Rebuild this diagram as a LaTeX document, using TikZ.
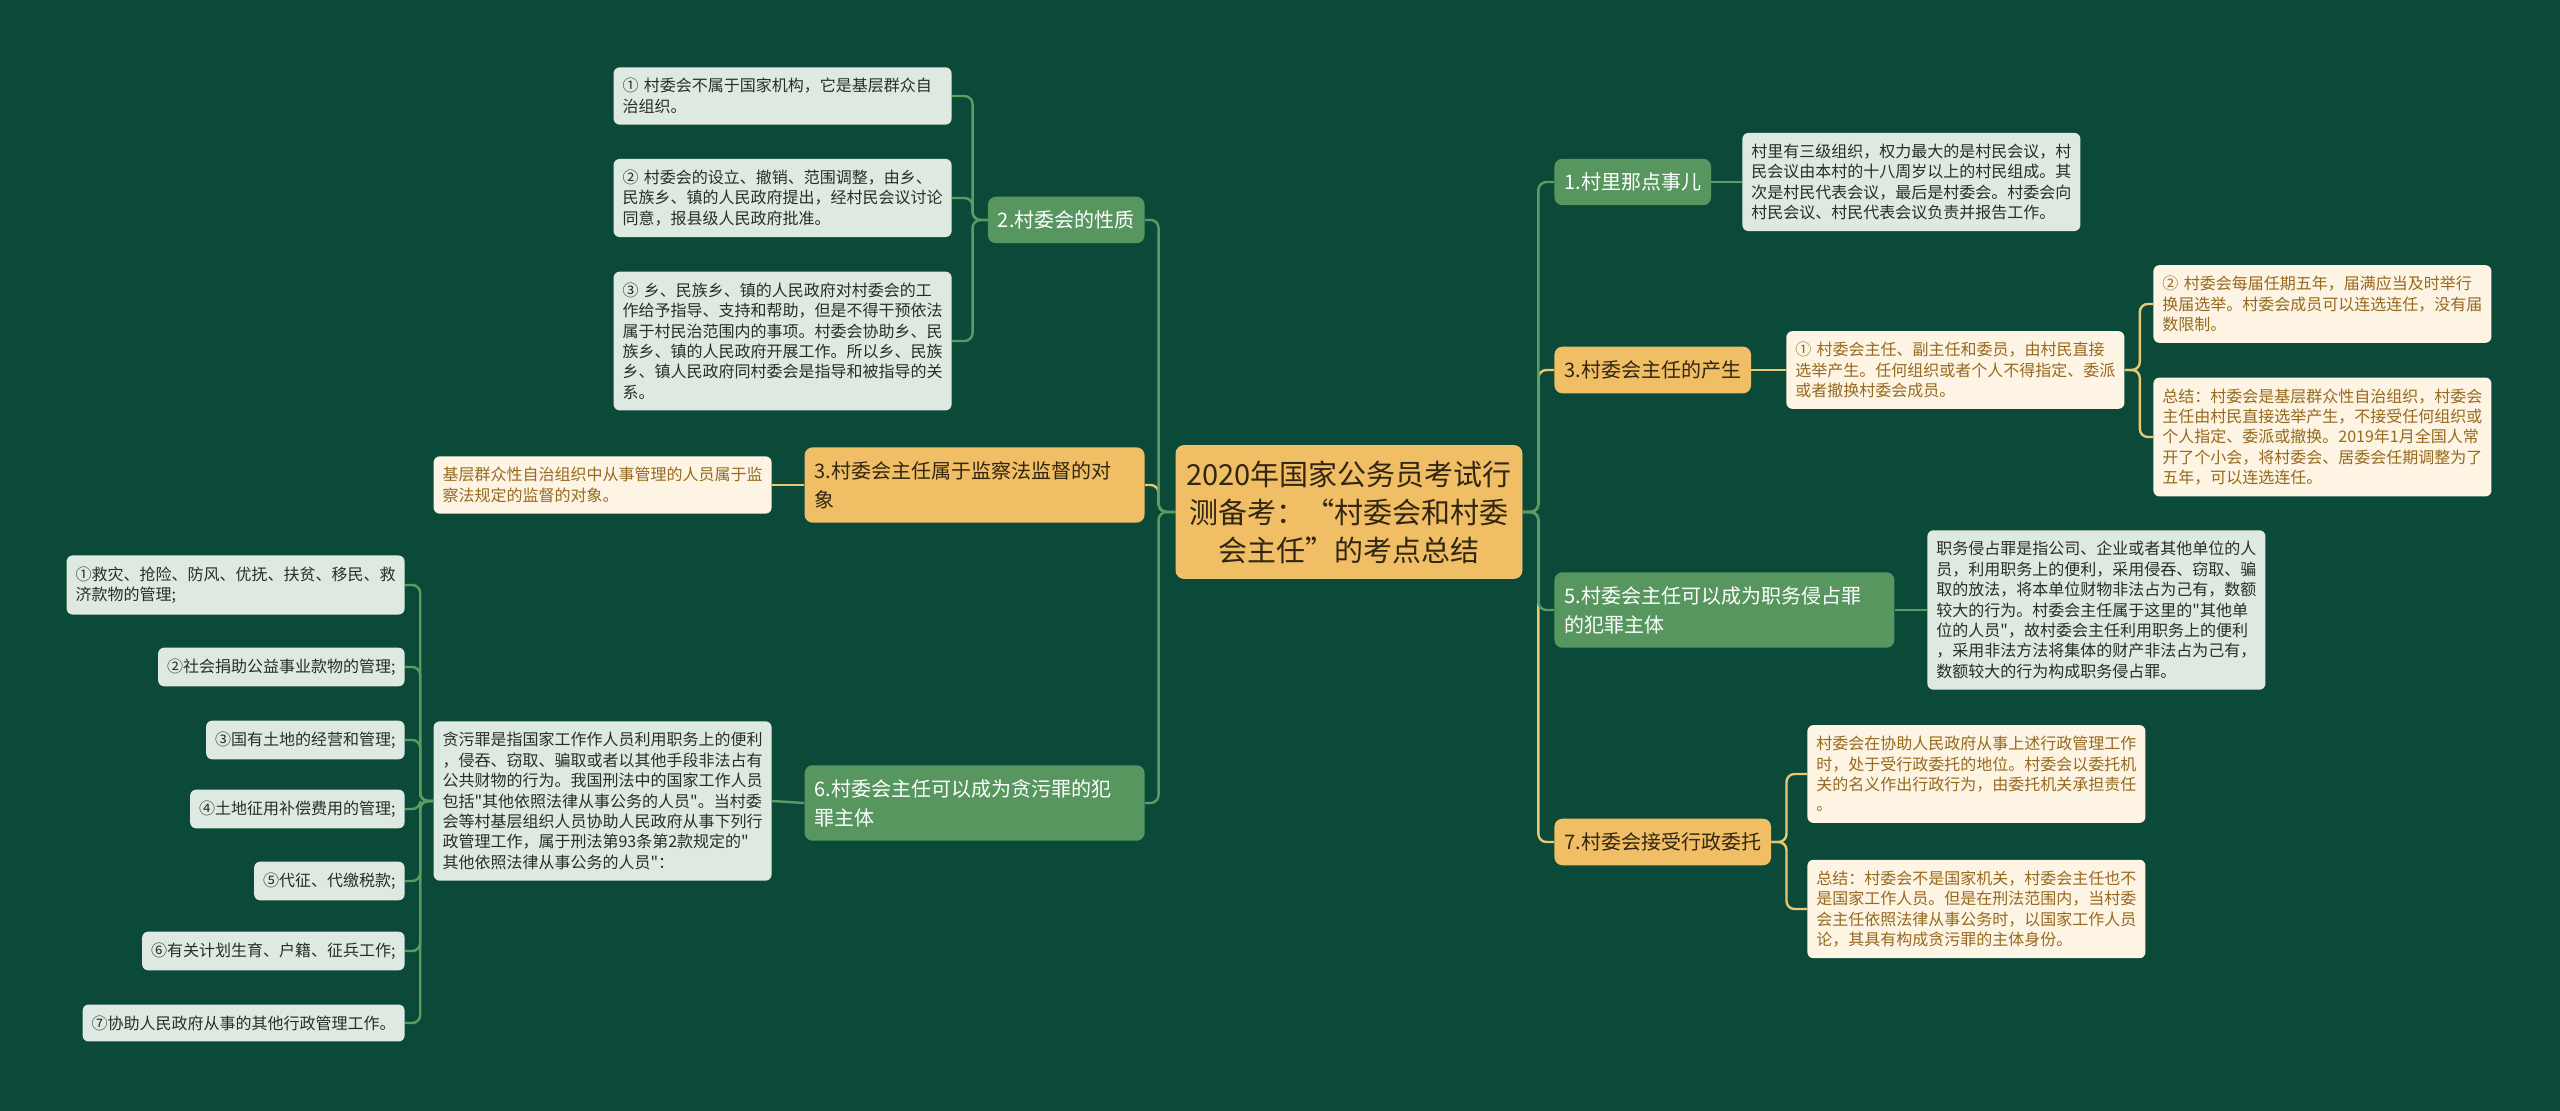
\documentclass[tikz,border=0pt]{standalone}
\usepackage{fontspec}
\setmainfont{Noto Sans CJK SC}[Ligatures=TeXOff]
\usepackage{tikz}

\definecolor{bgdark}{RGB}{11,74,57}
\definecolor{brgreen}{RGB}{88,150,96}
\definecolor{orfill}{RGB}{240,190,100}
\definecolor{ortext}{RGB}{50,38,18}
\definecolor{lfgreen}{RGB}{222,234,225}
\definecolor{lftext}{RGB}{40,45,40}
\definecolor{lfcream}{RGB}{253,244,228}
\definecolor{lfbrown}{RGB}{150,105,30}
\definecolor{lngreen}{RGB}{92,156,98}
\definecolor{lnyellow}{RGB}{232,200,115}

\tikzset{
  ctrbox/.style={rounded corners=4pt, fill=orfill, draw=orfill!85!white, text=ortext,
    font=\fontsize{14.5}{19}\selectfont, align=center, minimum width=173pt,
    inner xsep=5pt, inner ysep=7.5pt},
  gbranch/.style={rounded corners=4pt, fill=brgreen, text=white,
    font=\fontsize{10}{14.5}\selectfont, align=left, inner xsep=5pt, inner ysep=7pt},
  obranch/.style={gbranch, fill=orfill, text=ortext},
  gleaf/.style={rounded corners=3pt, fill=lfgreen, text=lftext,
    font=\fontsize{8}{10.2}\selectfont, align=left, inner xsep=4.5pt, inner ysep=5.5pt},
  oleaf/.style={gleaf, fill=lfcream, text=lfbrown},
  wide/.style={text width=160pt},
  gline/.style={draw=lngreen, line width=1.2pt, rounded corners=4pt},
  oline/.style={draw=lnyellow, line width=1.2pt, rounded corners=4pt}
}

\begin{document}
\begin{tikzpicture}[x=0.5pt, y=-0.5pt]

% Background
\fill[bgdark] (0,0) rectangle (2560,1111);
\useasboundingbox (0,0) rectangle (2560,1111);

% Centre
\node[ctrbox] (ctr) at (1349,512) {2020年国家公务员考试行\\测备考：“村委会和村委\\会主任”的考点总结};

% Left branches
\node[gbranch, anchor=east] (b2) at (1145,220) {2.村委会的性质};
\node[obranch, wide, anchor=east] (b3l) at (1145,485) {3.村委会主任属于监察法监督的对\\象};
\node[gbranch, wide, anchor=east] (b6) at (1145,803) {6.村委会主任可以成为贪污罪的犯\\罪主体};

% Leaves of 2
\node[gleaf, wide, anchor=east] (l2a) at (952,96) {① 村委会不属于国家机构，它是基层群众自\\治组织。};
\node[gleaf, wide, anchor=east] (l2b) at (952,198) {② 村委会的设立、撤销、范围调整，由乡、\\民族乡、镇的人民政府提出，经村民会议讨论\\同意，报县级人民政府批准。};
\node[gleaf, wide, anchor=east] (l2c) at (952,341) {③ 乡、民族乡、镇的人民政府对村委会的工\\作给予指导、支持和帮助，但是不得干预依法\\属于村民治范围内的事项。村委会协助乡、民\\族乡、镇的人民政府开展工作。所以乡、民族\\乡、镇人民政府同村委会是指导和被指导的关\\系。};

% Leaf of 3 (left)
\node[oleaf, wide, anchor=east] (l3l) at (772,485) {基层群众性自治组织中从事管理的人员属于监\\察法规定的监督的对象。};

% Leaf of 6 and its items
\node[gleaf, wide, anchor=east] (l6) at (772,801) {贪污罪是指国家工作作人员利用职务上的便利\\，侵吞、窃取、骗取或者以其他手段非法占有\\公共财物的行为。我国刑法中的国家工作人员\\包括"其他依照法律从事公务的人员"。当村委\\会等村基层组织人员协助人民政府从事下列行\\政管理工作，属于刑法第93条第2款规定的"\\其他依照法律从事公务的人员"：};
\node[gleaf, wide, anchor=east] (k1) at (405,585) {①救灾、抢险、防风、优抚、扶贫、移民、救\\济款物的管理;};
\node[gleaf, anchor=east] (k2) at (405,667) {②社会捐助公益事业款物的管理;};
\node[gleaf, anchor=east] (k3) at (405,740) {③国有土地的经营和管理;};
\node[gleaf, anchor=east] (k4) at (405,809) {④土地征用补偿费用的管理;};
\node[gleaf, anchor=east] (k5) at (405,881) {⑤代征、代缴税款;};
\node[gleaf, anchor=east] (k6) at (405,951) {⑥有关计划生育、户籍、征兵工作;};
\node[gleaf, anchor=east] (k7) at (405,1023) {⑦协助人民政府从事的其他行政管理工作。};

% Right branches
\node[gbranch, anchor=west] (r1) at (1554,182) {1.村里那点事儿};
\node[obranch, anchor=west] (r3) at (1554,370) {3.村委会主任的产生};
\node[gbranch, wide, anchor=west] (r5) at (1554,610) {5.村委会主任可以成为职务侵占罪\\的犯罪主体};
\node[obranch, anchor=west] (r7) at (1554,842) {7.村委会接受行政委托};

% Right leaves
\node[gleaf, wide, anchor=west] (lr1) at (1742,182) {村里有三级组织，权力最大的是村民会议，村\\民会议由本村的十八周岁以上的村民组成。其\\次是村民代表会议，最后是村委会。村委会向\\村民会议、村民代表会议负责并报告工作。};
\node[oleaf, wide, anchor=west] (lr3) at (1786,370) {① 村委会主任、副主任和委员，由村民直接\\选举产生。任何组织或者个人不得指定、委派\\或者撤换村委会成员。};
\node[oleaf, wide, anchor=west] (lr3a) at (2153,304) {② 村委会每届任期五年，届满应当及时举行\\换届选举。村委会成员可以连选连任，没有届\\数限制。};
\node[oleaf, wide, anchor=west] (lr3b) at (2153,437) {总结：村委会是基层群众性自治组织，村委会\\主任由村民直接选举产生，不接受任何组织或\\个人指定、委派或撤换。2019年1月全国人常\\开了个小会，将村委会、居委会任期调整为了\\五年，可以连选连任。};
\node[gleaf, wide, anchor=west] (lr5) at (1927,610) {职务侵占罪是指公司、企业或者其他单位的人\\员，利用职务上的便利，采用侵吞、窃取、骗\\取的放法，将本单位财物非法占为己有，数额\\较大的行为。村委会主任属于这里的"其他单\\位的人员"，故村委会主任利用职务上的便利\\，采用非法方法将集体的财产非法占为己有，\\数额较大的行为构成职务侵占罪。};
\node[oleaf, wide, anchor=west] (lr7a) at (1807,774) {村委会在协助人民政府从事上述行政管理工作\\时，处于受行政委托的地位。村委会以委托机\\关的名义作出行政行为，由委托机关承担责任\\。};
\node[oleaf, wide, anchor=west] (lr7b) at (1807,909) {总结：村委会不是国家机关，村委会主任也不\\是国家工作人员。但是在刑法范围内，当村委\\会主任依照法律从事公务时，以国家工作人员\\论，其具有构成贪污罪的主体身份。};

% Connectors, left side
\draw[oline] (ctr.west) -- ++(-17,0) |- (b3l.east);
\draw[gline] (ctr.west) -- ++(-17,0) |- (b2.east);
\draw[gline] (ctr.west) -- ++(-17,0) |- (b6.east);
\draw[gline] (b2.west) -- ++(-15,0) |- (l2a.east);
\draw[gline] (b2.west) -- ++(-15,0) |- (l2b.east);
\draw[gline] (b2.west) -- ++(-15,0) |- (l2c.east);
\draw[oline] (b3l.west) -- (l3l.east);
\draw[gline] (b6.west) -- (l6.east);
\foreach \k in {k1,k2,k3,k4,k5,k6,k7}
  \draw[gline] (l6.west) -- ++(-13,0) |- (\k.east);

% Connectors, right side
\draw[oline] (ctr.east) -- ++(16,0) |- (r3.west);
\draw[oline] (ctr.east) -- ++(16,0) |- (r7.west);
\draw[gline] (ctr.east) -- ++(16,0) |- (r1.west);
\draw[gline] (ctr.east) -- ++(16,0) |- (r5.west);
\draw[gline] (r1.east) -- (lr1.west);
\draw[oline] (r3.east) -- (lr3.west);
\draw[oline] (lr3.east) -- ++(15,0) |- (lr3a.west);
\draw[oline] (lr3.east) -- ++(15,0) |- (lr3b.west);
\draw[gline] (r5.east) -- (lr5.west);
\draw[oline] (r7.east) -- ++(15,0) |- (lr7a.west);
\draw[oline] (r7.east) -- ++(15,0) |- (lr7b.west);

\end{tikzpicture}
\end{document}
